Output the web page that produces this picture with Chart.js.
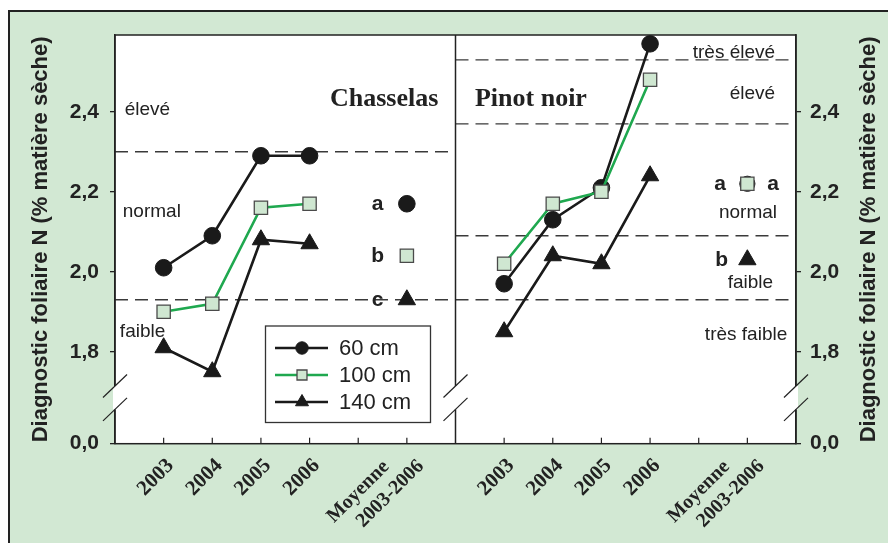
<!DOCTYPE html>
<html>
<head>
<meta charset="utf-8">
<script src="https://cdn.jsdelivr.net/npm/chart.js@4.4.0/dist/chart.umd.min.js"></script>
<style>
html, body { margin: 0; padding: 0; background: #fff; }
</style>
</head>
<body>
<canvas id="canvas" width="888" height="543"></canvas>
<script>
// Diagnostic foliaire N (% matière sèche) selon la profondeur du sol
var years = ['2003', '2004', '2005', '2006'];
var meanLabel = ['Moyenne', '2003-2006'];
var depths = ['60 cm', '100 cm', '140 cm'];
var varieties = ['Chasselas', 'Pinot noir'];

var chasselas60 = [2.01, 2.09, 2.29, 2.29];
var chasselas100 = [1.90, 1.92, 2.16, 2.17];
var chasselas140 = [1.81, 1.75, 2.08, 2.07];
var chasselasMean = [2.17, 2.04, 1.93];
var chasselasGroups = ['a', 'b', 'c'];

var pinot60 = [1.97, 2.13, 2.21, 2.57];
var pinot100 = [2.02, 2.17, 2.20, 2.48];
var pinot140 = [1.85, 2.04, 2.02, 2.24];
var pinotMean = [2.22, 2.22, 2.03];
var pinotGroups = ['a', 'a', 'b'];

// seuils d'interprétation
var chasselasLimits = [1.93, 2.30];
var pinotLimits = [1.93, 2.09, 2.37, 2.53];
var chasselasZones = ['faible', 'normal', 'élevé'];
var pinotZones = ['très faible', 'faible', 'normal', 'élevé', 'très élevé'];

var yTicks = [1.8, 2.0, 2.2, 2.4];
var yZero = 1.57;   // where "0,0" sits below the axis break
var yTop = 2.592;

// ---- layout ----
var PANEL = 7, MEAN_SLOT = 6;
var SANS = "'Liberation Sans', Arial, sans-serif";
var SERIF = "'Liberation Serif', 'Times New Roman', serif";
var INK = '#222';

var styles = [
  { line: '#1a1a1a', pointStyle: 'circle', radius: 8.3, fill: '#1a1a1a', border: '#1a1a1a', bw: 1 },
  { line: '#1fa84f', pointStyle: 'rect', radius: 9.4, fill: '#cfe7d1', border: '#4a4a4a', bw: 1.3 },
  { line: '#1a1a1a', pointStyle: 'triangle', radius: 10, fill: '#1a1a1a', border: '#1a1a1a', bw: 1 }
];

// zone names: [x slot, y baseline value, align]
var chasselasZonePos = [[0.10, 1.8375, 'left'], [0.16, 2.136, 'left'], [0.20, 2.392, 'left']];
var pinotZonePos = [[13.82, 1.829, 'right'], [13.53, 1.9585, 'right'], [13.61, 2.1335, 'right'],
                    [13.57, 2.431, 'right'], [13.57, 2.5335, 'right']];
var titlePos = [[4.42, 2.414], [7.40, 2.414]];
var chasselasLetterX = [5.4, 5.4, 5.4];
var pinotLetterX = [12.44, 13.53, 12.47];

function pts(values, panel) {
  return values.map(function(v, i) { return { x: panel * PANEL + i + 1, y: v }; });
}
function meanPt(v, panel) {
  return [{ x: panel * PANEL + MEAN_SLOT, y: v }];
}
function limitLine(v, panel) {
  return [{ x: panel * PANEL, y: v }, { x: (panel + 1) * PANEL, y: v }];
}

var datasets = [];
[chasselasLimits, pinotLimits].forEach(function(limits, panel) {
  limits.forEach(function(v) {
    datasets.push({
      data: limitLine(v, panel), borderColor: '#3a3a3a', borderWidth: 1.3,
      borderDash: [13, 7], pointRadius: 0, order: 20
    });
  });
});
[[chasselas60, chasselas100, chasselas140], [pinot60, pinot100, pinot140]].forEach(function(series, panel) {
  series.forEach(function(values, k) {
    var s = styles[k];
    datasets.push({
      label: depths[k], data: pts(values, panel),
      borderColor: s.line, borderWidth: 2.6,
      pointStyle: s.pointStyle, pointRadius: s.radius,
      pointBackgroundColor: s.fill, pointBorderColor: s.border, pointBorderWidth: s.bw,
      order: 10 - k
    });
  });
});
[chasselasMean, pinotMean].forEach(function(means, panel) {
  means.forEach(function(v, k) {
    var s = styles[k];
    // the Pinot 60 cm mean sits under the 100 cm one
    var r = (panel === 1 && k === 0) ? 7.6 : s.radius;
    datasets.push({
      label: depths[k], data: meanPt(v, panel), showLine: false,
      pointStyle: s.pointStyle, pointRadius: r,
      pointBackgroundColor: s.fill, pointBorderColor: s.border, pointBorderWidth: s.bw,
      order: 10 - k
    });
  });
});

function yLabel(v) {
  return Math.abs(v - yZero) < 1e-6 ? '0,0' : v.toFixed(1).replace('.', ',');
}
function setYTicks(scale) {
  scale.ticks = [yZero].concat(yTicks).map(function(v) { return { value: v }; });
}

var yAxis = function(position) {
  return {
    type: 'linear', position: position, min: yZero, max: yTop,
    afterBuildTicks: setYTicks,
    afterFit: function(s) { s.width = position === 'left' ? 115 : 92; },
    grid: { drawOnChartArea: false, drawTicks: true, tickLength: 5, color: INK, lineWidth: 1.3 },
    border: { display: true, color: INK, width: 1.5 },
    ticks: {
      callback: yLabel, color: INK, padding: position === 'left' ? 11 : 9,
      font: { family: SANS, size: 21, weight: 'bold' }
    }
  };
};

var decor = {
  id: 'decor',
  beforeDraw: function(chart) {
    var c = chart.ctx, a = chart.chartArea;
    c.save();
    c.fillStyle = '#d2e8d3';
    c.fillRect(9, 11, chart.width - 9, chart.height - 11);
    c.strokeStyle = INK; c.lineWidth = 2;
    c.beginPath(); c.moveTo(9, chart.height); c.lineTo(9, 11); c.lineTo(chart.width, 11); c.stroke();
    c.fillStyle = '#fff';
    c.fillRect(a.left, a.top, a.right - a.left, a.bottom - a.top);
    c.restore();
  },
  beforeDatasetsDraw: function(chart) {
    var c = chart.ctx, x = chart.scales.x, y = chart.scales.y;
    c.save();
    c.fillStyle = INK;
    c.textBaseline = 'alphabetic';
    c.font = '19px ' + SANS;
    [[chasselasZones, chasselasZonePos], [pinotZones, pinotZonePos]].forEach(function(z) {
      z[0].forEach(function(name, i) {
        var p = z[1][i];
        c.textAlign = p[2];
        c.fillText(name, x.getPixelForValue(p[0]), y.getPixelForValue(p[1]));
      });
    });
    c.font = 'bold 26px ' + SERIF;
    c.textAlign = 'left';
    varieties.forEach(function(name, i) {
      c.fillText(name, x.getPixelForValue(titlePos[i][0]), y.getPixelForValue(titlePos[i][1]));
    });
    c.restore();
  },
  afterDraw: function(chart) {
    var c = chart.ctx, a = chart.chartArea, x = chart.scales.x, xm = chart.scales.xm, y = chart.scales.y;
    c.save();

    // plot frame and panel divider
    c.strokeStyle = INK; c.lineWidth = 1.5;
    c.strokeRect(a.left, a.top, a.right - a.left, a.bottom - a.top);
    var xd = x.getPixelForValue(PANEL);
    c.beginPath(); c.moveTo(xd, a.top); c.lineTo(xd, a.bottom); c.stroke();

    // inward tick marks on the category axis
    c.lineWidth = 1.2;
    x.ticks.concat(xm.ticks).forEach(function(t) {
      var px = x.getPixelForValue(t.value);
      c.beginPath(); c.moveTo(px, a.bottom); c.lineTo(px, a.bottom - 6); c.stroke();
    });

    // axis breaks between 1,8 and 0,0
    var yMid = (y.getPixelForValue(yTicks[0]) + y.getPixelForValue(yZero)) / 2;
    [a.left, xd, a.right].forEach(function(px) {
      c.fillStyle = '#fff';
      c.fillRect(px - 2, yMid - 11.7, 4, 23.4);
      c.strokeStyle = INK; c.lineWidth = 1.2;
      [-11.7, 11.7].forEach(function(d) {
        c.beginPath();
        c.moveTo(px - 12, yMid + d + 11.5);
        c.lineTo(px + 12, yMid + d - 11.5);
        c.stroke();
      });
    });

    // group letters next to the means
    c.fillStyle = INK;
    c.font = 'bold 21px ' + SANS;
    c.textAlign = 'center';
    c.textBaseline = 'alphabetic';
    chasselasGroups.forEach(function(g, k) {
      c.fillText(g, x.getPixelForValue(chasselasLetterX[k]), y.getPixelForValue(chasselasMean[k]) + 6);
    });
    pinotGroups.forEach(function(g, k) {
      c.fillText(g, x.getPixelForValue(pinotLetterX[k]), y.getPixelForValue(pinotMean[k]) + 6);
    });

    // legend
    c.strokeStyle = '#333'; c.lineWidth = 1.3;
    c.fillStyle = '#fff';
    c.fillRect(265.5, 326, 165, 96.5);
    c.strokeRect(265.5, 326, 165, 96.5);
    c.font = '22px ' + SANS;
    c.textAlign = 'left';
    c.textBaseline = 'middle';
    depths.forEach(function(name, k) {
      var s = styles[k], ly = 348 + k * 27;
      c.strokeStyle = s.line; c.lineWidth = 2.6;
      c.beginPath(); c.moveTo(275, ly); c.lineTo(328, ly); c.stroke();
      c.fillStyle = s.fill; c.strokeStyle = s.border; c.lineWidth = s.bw;
      Chart.helpers.drawPoint(c, { pointStyle: s.pointStyle, radius: s.radius * 0.75, rotation: 0, borderWidth: s.bw }, 302, ly);
      c.fillStyle = INK;
      c.fillText(name, 339, ly + 1);
    });

    // right-hand axis title, read bottom to top like the left one
    c.translate(868.5, (a.top + a.bottom) / 2);
    c.rotate(-Math.PI / 2);
    c.font = 'bold 22px ' + SANS;
    c.textAlign = 'center';
    c.fillText(chart.options.scales.y.title.text, 0, 0);
    c.restore();
  }
};

var ctx = document.getElementById('canvas').getContext('2d');
var chart = new Chart(ctx, {
  type: 'line',
  data: { datasets: datasets },
  options: {
    responsive: false,
    animation: false,
    events: [],
    layout: { padding: { top: 35, left: 0, right: 0, bottom: 0 } },
    plugins: { legend: { display: false }, tooltip: { enabled: false } },
    scales: {
      x: {
        type: 'linear', position: 'bottom', min: 0, max: 2 * PANEL,
        afterBuildTicks: function(s) {
          s.ticks = [1, 2, 3, 4, 5, 8, 9, 10, 11, 12].map(function(v) { return { value: v }; });
        },
        afterFit: function(s) { s.height = 99.3; },
        grid: { display: false, drawTicks: false },
        border: { display: false },
        ticks: {
          autoSkip: false, minRotation: 45, maxRotation: 45, padding: 10, labelOffset: 7,
          color: INK, font: { family: SERIF, size: 21, weight: 'bold' },
          callback: function(v) { return years[(v % PANEL) - 1] || ''; }
        }
      },
      // mean labels sit on their own axis pinned to the bottom of the plot
      xm: {
        type: 'linear', position: { y: yZero }, min: 0, max: 2 * PANEL,
        afterBuildTicks: function(s) {
          s.ticks = [MEAN_SLOT, PANEL + MEAN_SLOT].map(function(v) { return { value: v }; });
        },
        grid: { display: false, drawTicks: false },
        border: { display: false },
        ticks: {
          autoSkip: false, minRotation: 45, maxRotation: 45, padding: -6, labelOffset: -3,
          color: INK, font: { family: SERIF, size: 20, weight: 'bold' },
          callback: function() { return [meanLabel[0] + '     ', meanLabel[1]]; }
        }
      },
      y: Object.assign(yAxis('left'), {
        title: {
          display: true, text: 'Diagnostic foliaire N (% matière sèche)', color: INK,
          padding: { top: 28, bottom: 0 }, font: { family: SANS, size: 22, weight: 'bold' }
        }
      }),
      y2: yAxis('right')
    }
  },
  plugins: [decor]
});
</script>
</body>
</html>
